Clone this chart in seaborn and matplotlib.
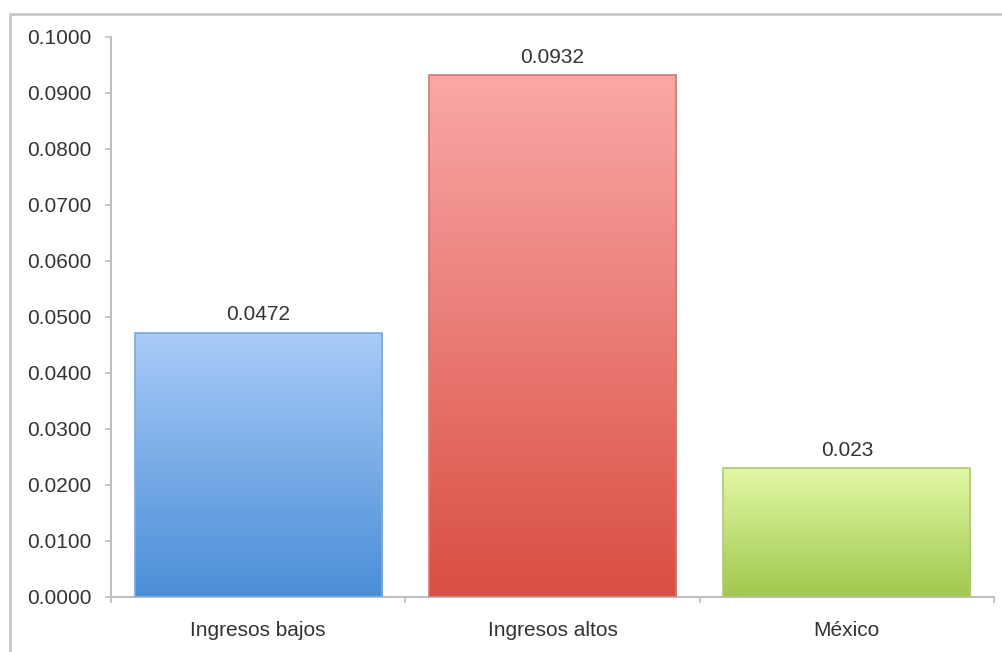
import numpy as np
import pandas as pd
import matplotlib
matplotlib.use("Agg")
import matplotlib.pyplot as plt
from matplotlib.colors import LinearSegmentedColormap
import seaborn as sns

# Data
categories = ["Ingresos bajos", "Ingresos altos", "México"]
values = [0.0472, 0.0932, 0.023]
value_labels = ["0.0472", "0.0932", "0.023"]
y_ticks = [0.0, 0.01, 0.02, 0.03, 0.04, 0.05, 0.06, 0.07, 0.08, 0.09, 0.10]

# Gradient (top, bottom) and edge colour for each bar
gradients = [("#a9cbf8", "#4a8ed7"), ("#faa8a7", "#d94e42"), ("#e2f8a4", "#a0c84e")]
edges = ["#7ea9da", "#cf7a75", "#b0c77c"]

sns.set_theme(style="white")
plt.rcParams["font.family"] = ["Liberation Sans", "DejaVu Sans"]

df = pd.DataFrame({"cat": categories, "val": values})

fig = plt.figure(figsize=(10.02, 6.52), dpi=100)
ax = fig.add_axes([111 / 1002, 1 - 597 / 652, (994 - 111) / 1002, (597 - 37) / 652])

sns.barplot(data=df, x="cat", y="val", ax=ax, width=0.84, color="white",
            saturation=1, errorbar=None)

ax.set_xlim(-0.5, 2.5)
ax.set_ylim(0, 0.1)

# Fill each bar with a vertical gradient clipped to the bar shape
grad = np.linspace(0, 1, 256).reshape(-1, 1)
for patch, (top, bottom), ec in zip(ax.patches, gradients, edges):
    x0, y0 = patch.get_x(), patch.get_y()
    w, h = patch.get_width(), patch.get_height()
    cmap = LinearSegmentedColormap.from_list("g", [bottom, top])
    im = ax.imshow(grad, cmap=cmap, aspect="auto", origin="lower",
                   extent=[x0, x0 + w, y0, y0 + h], zorder=2, interpolation="bilinear")
    im.set_clip_path(patch)
    patch.set_facecolor("none")
    patch.set_edgecolor(ec)
    patch.set_linewidth(1.2)
    patch.set_zorder(3)

ax.set_xlim(-0.5, 2.5)
ax.set_ylim(0, 0.1)

# Value labels above bars
for i, (v, lab) in enumerate(zip(values, value_labels)):
    ax.annotate(lab, (i, v), xytext=(0, 6), textcoords="offset points",
                ha="center", va="bottom", fontsize=15, color="#333333")

ax.set_yticks(y_ticks)
ax.set_yticklabels([f"{t:.4f}" for t in y_ticks])
ax.set_xticks([0, 1, 2])
ax.set_xticklabels(categories)
ax.set_xticks([-0.5, 0.5, 1.5, 2.5], minor=True)
ax.set_xlabel("")
ax.set_ylabel("")

spine_color = "#bfbfbf"
for s in ["top", "right"]:
    ax.spines[s].set_visible(False)
for s in ["left", "bottom"]:
    ax.spines[s].set_color(spine_color)
    ax.spines[s].set_linewidth(1.5)

ax.tick_params(axis="y", which="major", left=True, length=4, width=1.2,
               color=spine_color, pad=10, labelsize=15, labelcolor="#333333")
ax.tick_params(axis="x", which="major", bottom=False, pad=11,
               labelsize=15, labelcolor="#333333")
ax.tick_params(axis="x", which="minor", bottom=True, length=4, width=1.2,
               color=spine_color)

# Outer frame edges
fig.add_artist(plt.Line2D([10 / 1002, 10 / 1002], [0, 1 - 14 / 652],
                          color="#c8c8c8", lw=2, transform=fig.transFigure))
fig.add_artist(plt.Line2D([10 / 1002, 1], [1 - 14 / 652, 1 - 14 / 652],
                          color="#c8c8c8", lw=2, transform=fig.transFigure))

fig.savefig("out.png", dpi=100)
